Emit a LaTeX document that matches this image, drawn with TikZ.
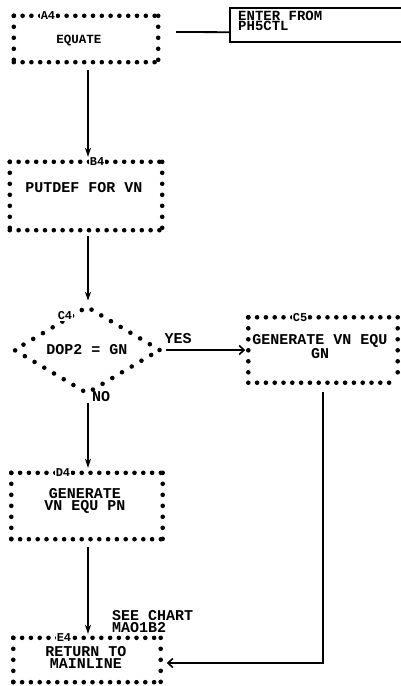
\documentclass[tikz,border=0pt]{standalone}
\usepackage{fontspec}
\setmonofont{Liberation Mono}
\usetikzlibrary{arrows.meta,shapes.geometric}
\newcommand\starframe[1]{%
  \draw[hdots] (#1.north west) -- (#1.north east);
  \draw[hdots] (#1.south west) -- (#1.south east);
  \draw[vdots] (#1.north west) -- (#1.south west);
  \draw[vdots] (#1.north east) -- (#1.south east);}
\begin{document}
\begin{tikzpicture}[x=1bp,y=-1bp,
  frame/.style={rectangle, inner sep=0pt},
  hdots/.style={line width=4.6bp, line cap=round, dash pattern=on 0pt off 8.8bp},
  vdots/.style={line width=4.6bp, line cap=round, dash pattern=on 0pt off 11bp},
  txt/.style={inner sep=0pt, align=center, font=\ttfamily\bfseries\fontsize{15bp}{12bp}\selectfont},
  tag/.style={fill=white, inner sep=0.6bp, font=\ttfamily\bfseries\fontsize{12bp}{12bp}\selectfont},
  conn/.style={line width=1.8bp},
  varrow/.style={line width=1.8bp, -{Stealth[length=9bp,width=6bp]}},
  harrow/.style={line width=1.8bp, -{Straight Barb[length=5bp,width=9bp,line width=1.6bp]}},
]
\useasboundingbox[fill=white] (0,0) rectangle (400,686);

% A4
\node[frame, minimum width=144bp, minimum height=46bp] (A4) at (86,39) {};
\starframe{A4}
\node[tag] (A4t) at (48,16) {A4};
\node[txt, font=\ttfamily\bfseries\fontsize{12.5bp}{10bp}\selectfont] (A4x) at (79,41) {EQUATE};

% entry
\node[frame, minimum width=176bp, minimum height=34bp, anchor=north west] (enter) at (230,8) {};
\draw[line width=2bp] (enter.north east) -- (enter.north west) -- (enter.south west) -- (enter.south east);
\node[txt, align=left, anchor=north west, font=\ttfamily\bfseries\fontsize{14bp}{10.5bp}\selectfont] (enterx) at (238,10.5) {ENTER FROM\\PH5CTL};
\draw[conn] ([shift={(18bp,7bp)}]A4.east) -- ([yshift=-7bp]enter.west);

% B4
\node[frame, minimum width=152bp, minimum height=68bp] (B4) at (86,196) {};
\starframe{B4}
\node[tag] (B4t) at (97,162) {B4};
\node[txt] (B4x) at (84,188) {PUTDEF FOR VN};

% C4
\node[diamond, shape aspect=1.67, minimum width=147bp, minimum height=88bp, inner sep=0pt,
      draw, line width=4.6bp, line cap=round, dash pattern=on 0pt off 11.3bp] (C4) at (87,350) {};
\node[txt] (C4x) at (87,350) {DOP2 = GN};
\node[tag] (C4t) at (65,316) {C4};

% C5
\node[frame, minimum width=149bp, minimum height=65bp] (C5) at (323,350) {};
\starframe{C5}
\node[tag] (C5t) at (300,318) {C5};
\node[txt] (C5x) at (320,346.5) {GENERATE VN EQU\\GN};

% D4
\node[frame, minimum width=151bp, minimum height=66bp] (D4) at (87,506) {};
\starframe{D4}
\node[tag] (D4t) at (63,473) {D4};
\node[txt] (D4x) at (85,500.5) {GENERATE\\VN EQU PN};

% E4
\node[frame, minimum width=147bp, minimum height=44bp] (E4) at (87,660) {};
\starframe{E4}
\node[tag] (E4t) at (64,638) {E4};
\node[txt] (E4x) at (86,657.5) {RETURN TO\\MAINLINE};
\node[txt, align=left, anchor=north west] (see) at (112,610) {SEE CHART\\MAO1B2};

% labels
\node[txt] (yes) at (178,339) {YES};
\node[txt] (no) at (101,397) {NO};

% connectors
\draw[varrow, shorten <=8bp, shorten >=5bp] (A4.south -| 88,0) -- (B4.north -| 88,0);
\draw[varrow, shorten <=6bp, shorten >=3bp] (B4.south -| 88,0) -- (C4.north -| 88,0);
\draw[harrow, shorten <=3bp, shorten >=3bp] (C4.east) -- (C5.west);
\draw[varrow, shorten <=7bp, shorten >=5bp] (C4.south -| 88,0) -- (D4.north -| 88,0);
\draw[varrow, shorten <=8bp, shorten >=4bp] (D4.south -| 88,0) -- (E4.north -| 88,0);
\draw[harrow, shorten <=9bp, shorten >=6bp] (C5.south) |- ([yshift=-3bp]E4.east);
\end{tikzpicture}
\end{document}
